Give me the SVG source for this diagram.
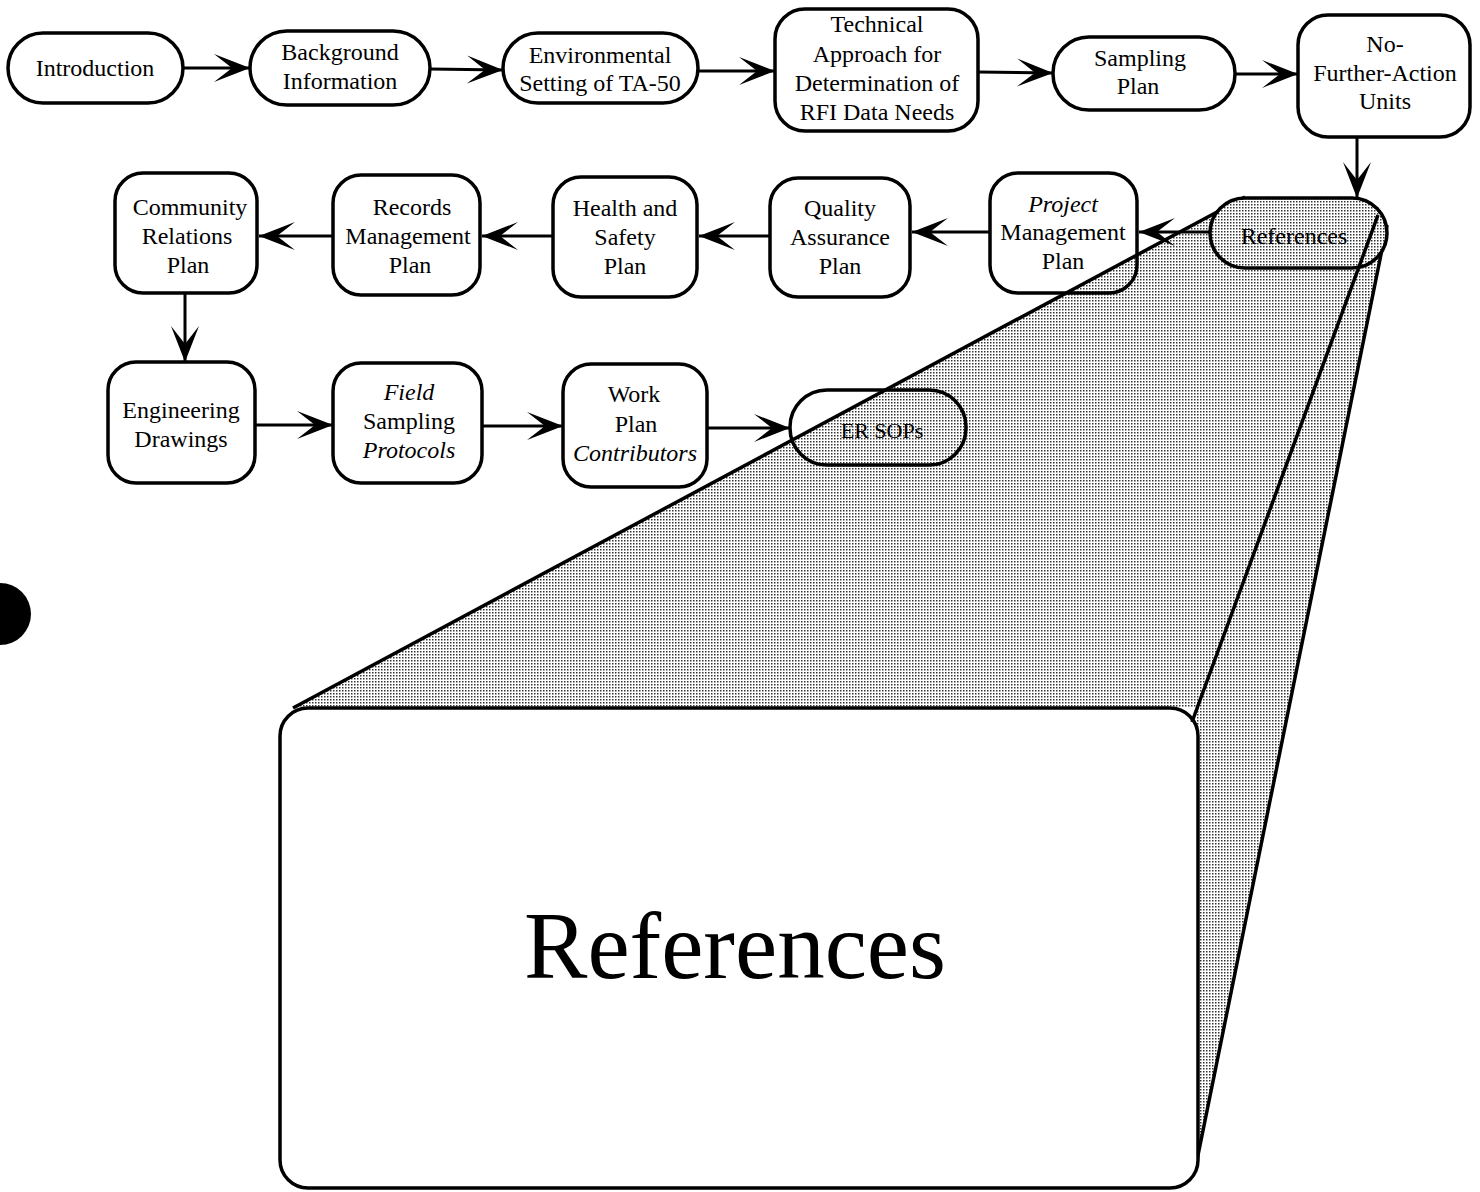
<svg xmlns="http://www.w3.org/2000/svg" width="1480" height="1192" viewBox="0 0 1480 1192" font-family="'Liberation Serif', 'Times New Roman', serif">
<style>
.n{fill:none;stroke:#000;stroke-width:3.5}
.t{font-size:24px;fill:#000;text-anchor:middle}
.i{font-style:italic}
.c{fill:none;stroke:#000;stroke-width:3;marker-end:url(#ah)}
.e{fill:none;stroke:#000;stroke-width:3.5}
</style>
<defs>
<marker id="ah" markerUnits="userSpaceOnUse" viewBox="-38 -15 40 30" refX="0" refY="0" markerWidth="40" markerHeight="30" orient="auto">
<path d="M0,0 L-36,-14 L-18,0 L-36,14 Z" fill="#000"/>
</marker>
<pattern id="dots" width="3" height="3" patternUnits="userSpaceOnUse">
<rect width="3" height="3" fill="#fff"/>
<rect width="1.5" height="1.5" fill="#333"/>
</pattern>
</defs>
<rect width="1480" height="1192" fill="#fff"/>
<g id="zoom-projection">
<polygon points="293,708 1245,197 1355,197 1380,208 1387,225 1197,1163 1197,708" fill="url(#dots)"/>
<line class="e" x1="293" y1="708" x2="1245" y2="197"/>
<line class="e" x1="1387" y1="225" x2="1196" y2="1165"/>
</g>
<g id="references-big">
<rect x="280" y="708" width="918" height="480" rx="28" fill="#fff" stroke="#000" stroke-width="3.5"/>
<text x="735" y="978" font-size="95" text-anchor="middle">References</text>
</g>
<g id="connectors">
<line class="c" x1="183" y1="68" x2="250" y2="68"/>
<line class="c" x1="430" y1="69" x2="503" y2="70"/>
<line class="c" x1="698" y1="71" x2="775" y2="71"/>
<line class="c" x1="978" y1="72" x2="1053" y2="73"/>
<line class="c" x1="1235" y1="74" x2="1298" y2="74"/>
<line class="c" x1="1357" y1="137" x2="1357" y2="198"/>
<line class="c" x1="1210" y1="232" x2="1139" y2="232"/>
<line class="c" x1="990" y1="232" x2="912" y2="232"/>
<line class="c" x1="770" y1="236" x2="699" y2="236"/>
<line class="c" x1="553" y1="236" x2="482" y2="236"/>
<line class="c" x1="333" y1="236" x2="259" y2="236"/>
<line class="c" x1="185" y1="293" x2="185" y2="362"/>
<line class="c" x1="255" y1="425" x2="333" y2="425"/>
<line class="c" x1="482" y1="426" x2="563" y2="426"/>
<line class="c" x1="707" y1="428" x2="790" y2="428"/>
</g>
<g id="introduction"><rect class="n" x="8" y="33" width="175" height="70" rx="35"/><text class="t" x="95" y="76">Introduction</text></g>
<g id="background"><rect class="n" x="250" y="31" width="180" height="74" rx="37"/><text class="t" x="340" y="60">Background</text><text class="t" x="340" y="89">Information</text></g>
<g id="environmental"><rect class="n" x="503" y="33" width="195" height="70" rx="35"/><text class="t" x="600" y="63">Environmental</text><text class="t" x="600" y="91">Setting of TA-50</text></g>
<g id="technical"><rect class="n" x="775" y="9" width="203" height="122" rx="30"/><text class="t" x="877" y="32">Technical</text><text class="t" x="877" y="62">Approach for</text><text class="t" x="877" y="91">Determination of</text><text class="t" x="877" y="120">RFI Data Needs</text></g>
<g id="sampling"><rect class="n" x="1053" y="37" width="182" height="73" rx="36"/><text class="t" x="1140" y="66">Sampling</text><text class="t" x="1138" y="94">Plan</text></g>
<g id="nfa"><rect class="n" x="1298" y="15" width="172" height="122" rx="30"/><text class="t" x="1385" y="52">No-</text><text class="t" x="1385" y="81">Further-Action</text><text class="t" x="1385" y="109">Units</text></g>
<g id="references-small"><rect x="1210" y="198" width="177" height="70" rx="35" fill="url(#dots)" stroke="#000" stroke-width="3.5"/><text class="t" x="1294" y="244">References</text></g>
<g id="zoom-inner-edge"><line class="e" x1="1378" y1="215" x2="1192" y2="722"/></g>
<g id="project-management"><rect class="n" x="990" y="173" width="147" height="120" rx="28"/><text class="t i" x="1063" y="212">Project</text><text class="t" x="1063" y="240">Management</text><text class="t" x="1063" y="269">Plan</text></g>
<g id="quality"><rect class="n" x="770" y="178" width="140" height="119" rx="28"/><text class="t" x="840" y="216">Quality</text><text class="t" x="840" y="245">Assurance</text><text class="t" x="840" y="274">Plan</text></g>
<g id="health"><rect class="n" x="553" y="177" width="144" height="120" rx="28"/><text class="t" x="625" y="216">Health and</text><text class="t" x="625" y="245">Safety</text><text class="t" x="625" y="274">Plan</text></g>
<g id="records"><rect class="n" x="333" y="175" width="147" height="120" rx="28"/><text class="t" x="412" y="215">Records</text><text class="t" x="408" y="244">Management</text><text class="t" x="410" y="273">Plan</text></g>
<g id="community"><rect class="n" x="115" y="173" width="142" height="120" rx="28"/><text class="t" x="190" y="215">Community</text><text class="t" x="187" y="244">Relations</text><text class="t" x="188" y="273">Plan</text></g>
<g id="engineering"><rect class="n" x="108" y="362" width="147" height="121" rx="28"/><text class="t" x="181" y="418">Engineering</text><text class="t" x="181" y="447">Drawings</text></g>
<g id="field"><rect class="n" x="333" y="363" width="149" height="120" rx="28"/><text class="t i" x="409" y="400">Field</text><text class="t" x="409" y="429">Sampling</text><text class="t i" x="409" y="458">Protocols</text></g>
<g id="work"><rect class="n" x="563" y="364" width="144" height="123" rx="28"/><text class="t" x="634" y="402">Work</text><text class="t" x="636" y="432">Plan</text><text class="t i" x="635" y="461">Contributors</text></g>
<g id="ersops"><rect class="n" x="790" y="390" width="176" height="75" rx="37"/><text class="t" x="882" y="438" style="font-size:22px">ER SOPs</text></g>
<circle cx="0" cy="614" r="31" fill="#000"/>
</svg>
